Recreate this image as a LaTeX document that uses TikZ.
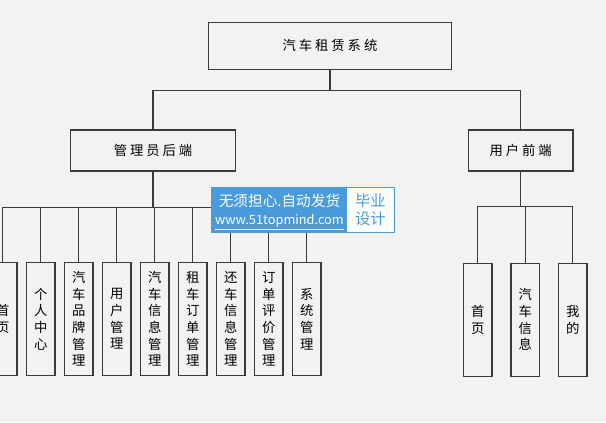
\documentclass[tikz,border=0pt]{standalone}
\usepackage{fontspec}
\setmainfont{Noto Sans CJK SC}
\usetikzlibrary{positioning}
\definecolor{bgcol}{HTML}{F2F2F2}
\definecolor{linecol}{HTML}{3A3A3A}
\definecolor{markblue}{HTML}{4A9BDC}
\tikzset{
  conn/.style={draw=linecol, line width=0.9pt},
  topbox/.style={draw=linecol, line width=0.9pt, fill=bgcol, minimum width=182pt, minimum height=35pt, font=\fontsize{10}{12}\selectfont\addfontfeature{LetterSpace=22}},
  midbox/.style={draw=linecol, line width=0.9pt, fill=bgcol, minimum height=30.75pt, font=\fontsize{10}{12}\selectfont\addfontfeature{LetterSpace=22}},
  leafbox/.style={draw=linecol, line width=0.9pt, fill=bgcol, minimum width=21.4pt, minimum height=84.75pt, inner sep=0pt, align=center, font=\fontsize{10}{12.5}\selectfont},
  markbox/.style={fill=markblue, inner sep=0pt, minimum width=138pt, minimum height=34.5pt},
  marktag/.style={fill=white, inner sep=0pt, minimum width=35.5pt, minimum height=32.8pt, align=center, text=markblue, font=\fontsize{11.5}{13.5}\selectfont}
}

\begin{document}
\begin{tikzpicture}[x=0.75pt, y=-0.75pt]
  \fill[bgcol] (0,0) rectangle (606,422);
  \useasboundingbox (0,0) rectangle (606,422);

  % levels
  \node[topbox] (sys) at (330,45.8) {汽车租赁系统};
  \node[midbox, minimum width=123.5pt] (admin) at (153,150.5) {管理员后端};
  \node[midbox, minimum width=78.3pt] (user) at (520.7,150.5) {用户前端};

  % admin side
  \node[leafbox] (a1) at (2.7,319) {首\\页};
  \node[leafbox] (a2) at (40.7,319) {个\\人\\中\\心};
  \node[leafbox] (a3) at (78.7,319) {汽\\车\\品\\牌\\管\\理};
  \node[leafbox] (a4) at (116.7,319) {用\\户\\管\\理};
  \node[leafbox] (a5) at (154.7,319) {汽\\车\\信\\息\\管\\理};
  \node[leafbox] (a6) at (192.7,319) {租\\车\\订\\单\\管\\理};
  \node[leafbox] (a7) at (230.7,319) {还\\车\\信\\息\\管\\理};
  \node[leafbox] (a8) at (268.7,319) {订\\单\\评\\价\\管\\理};
  \node[leafbox] (a9) at (306.7,319) {系\\统\\管\\理};

  % user side
  \node[leafbox] (u1) at (477.8,319.7) {首\\页};
  \node[leafbox] (u2) at (525.3,319.7) {汽\\车\\信\\息};
  \node[leafbox] (u3) at (572.8,319.7) {我\\的};

  \draw[conn] (sys.south) -- ++(0,20.7) -| (admin.north)
              (sys.south) -- ++(0,20.7) -| (user.north);

  \draw[conn] (admin.south) -- ++(0,35.7) -| (a1.north)
              (admin.south) -- ++(0,35.7) -| (a2.north)
              (admin.south) -- ++(0,35.7) -| (a3.north)
              (admin.south) -- ++(0,35.7) -| (a4.north)
              (admin.south) -- ++(0,35.7) -| (a5.north)
              (admin.south) -- ++(0,35.7) -| (a6.north)
              (admin.south) -- ++(0,35.7) -| (a7.north)
              (admin.south) -- ++(0,35.7) -| (a8.north)
              (admin.south) -- ++(0,35.7) -| (a9.north);

  \draw[conn] (user.south) -- ++(0,35) -| (u1.north)
              (user.south) -- ++(0,35) -| (u2.north)
              (user.south) -- ++(0,35) -| (u3.north);

  % watermark
  \node[markbox] (mark) at (303,210.3) {};
  \node[marktag] (tag) at (370.4,209.9) {毕业\\设计};
  \node[text=white, inner sep=0pt, font=\fontsize{11}{13}\selectfont] (slogan) at (279.5,201) {无须担心.自动发货};
  \node[text=white, inner sep=0pt, font=\fontsize{9.6}{11}\selectfont] (site) at (279.5,222.5) {\underline{www.51topmind.com}};
\end{tikzpicture}
\end{document}
